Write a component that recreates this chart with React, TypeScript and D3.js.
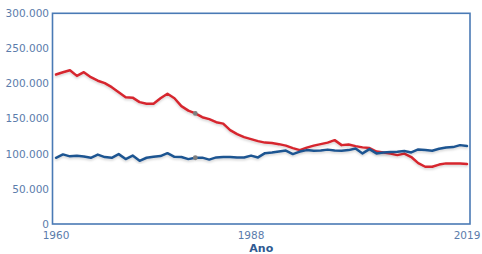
import React, { useEffect, useRef } from 'react';
import * as d3 from 'd3';

const years = d3.range(1960, 2020);

// red series (thousands)
const redValues = [
  212.8, 216.1, 219.0, 210.9, 216.1, 209.0, 204.0, 200.5, 194.8, 187.7,
  180.6, 179.9, 173.5, 171.3, 171.3, 179.1, 185.5, 179.1, 167.8, 161.4,
  157.4, 152.1, 149.3, 145.0, 142.9, 133.6, 128.0, 123.7, 120.9, 118.0,
  115.9, 115.2, 113.7, 111.6, 108.1, 105.2, 108.8, 111.6, 113.7, 115.9,
  119.4, 112.3, 113.3, 110.9, 109.1, 108.1, 103.1, 101.9, 100.2, 98.1,
  100.2, 95.3, 86.7, 81.5, 81.5, 84.6, 86.3, 86.3, 86.3, 85.3
];

// blue series (thousands)
const blueValues = [
  94.3, 99.1, 96.3, 97.1, 96.0, 94.3, 98.8, 95.3, 94.3, 99.5,
  92.4, 97.4, 90.0, 94.3, 95.7, 96.7, 100.9, 95.7, 95.3, 92.4,
  94.3, 94.5, 91.7, 94.8, 95.5, 95.5, 94.8, 94.8, 97.4, 94.8,
  100.9, 101.7, 103.1, 104.5, 99.5, 103.1, 105.2, 104.2, 104.5, 105.9,
  104.5, 104.2, 105.2, 107.6, 100.5, 106.6, 100.5, 101.9, 102.4, 102.8,
  103.8, 101.9, 106.2, 105.2, 104.2, 107.1, 108.8, 109.5, 112.3, 110.9
];

const yTicks = [0, 50, 100, 150, 200, 250, 300];
const yTickLabels = ['0', '50.000', '100.000', '150.000', '200.000', '250.000', '300.000'];
const xTicks = [1960, 1988, 2019];
const markerYear = 1980;

export default function App() {
  const svgRef = useRef<SVGSVGElement>(null);

  useEffect(() => {
    const W = 482;
    const H = 254;
    const frame = { left: 52.5, right: 470, top: 13.3, bottom: 224 };

    const svg = d3.select(svgRef.current);
    svg.selectAll('*').remove();
    svg.attr('width', W).attr('height', H);

    const x = d3.scaleLinear().domain([1960, 2019]).range([56, 467]);
    const y = d3.scaleLinear().domain([0, 300]).range([frame.bottom, frame.top]);

    const font = 'DejaVu Sans, Verdana, sans-serif';
    const labelColor = '#5b7cab';

    // soft shadow under lines
    const defs = svg.append('defs');
    const f = defs.append('filter').attr('id', 'shadow').attr('x', '-5%').attr('y', '-5%').attr('width', '110%').attr('height', '120%');
    f.append('feDropShadow').attr('dx', 0).attr('dy', 1.5).attr('stdDeviation', 1).attr('flood-color', '#000').attr('flood-opacity', 0.18);

    // frame
    svg.append('rect')
      .attr('x', frame.left)
      .attr('y', frame.top)
      .attr('width', frame.right - frame.left)
      .attr('height', frame.bottom - frame.top)
      .attr('fill', 'none')
      .attr('stroke', '#4a7ab5')
      .attr('stroke-width', 1.6);

    // y labels
    svg.append('g').selectAll('text')
      .data(yTicks)
      .join('text')
      .attr('x', 49)
      .attr('y', d => y(d))
      .attr('dy', '0.36em')
      .attr('text-anchor', 'end')
      .attr('font-family', font)
      .attr('font-size', 10.5)
      .attr('fill', labelColor)
      .text((d, i) => yTickLabels[i]);

    // x labels
    svg.append('g').selectAll('text')
      .data(xTicks)
      .join('text')
      .attr('x', d => x(d))
      .attr('y', 238.5)
      .attr('text-anchor', 'middle')
      .attr('font-family', font)
      .attr('font-size', 10.5)
      .attr('fill', labelColor)
      .text(d => String(d));

    svg.append('text')
      .attr('x', (frame.left + frame.right) / 2)
      .attr('y', 251.5)
      .attr('text-anchor', 'middle')
      .attr('font-family', font)
      .attr('font-size', 11)
      .attr('font-weight', 'bold')
      .attr('fill', '#2f5a92')
      .text('Ano');

    const line = d3.line<number>()
      .x((d, i) => x(years[i]))
      .y(d => y(d));

    const series = [
      { values: redValues, color: '#d6262f' },
      { values: blueValues, color: '#1f5491' }
    ];

    series.forEach(s => {
      svg.append('path')
        .datum(s.values)
        .attr('fill', 'none')
        .attr('stroke', s.color)
        .attr('stroke-width', 2.5)
        .attr('stroke-linejoin', 'round')
        .attr('stroke-linecap', 'round')
        .attr('filter', 'url(#shadow)')
        .attr('d', line);
    });

    // hover markers
    const mi = years.indexOf(markerYear);
    series.forEach(s => {
      svg.append('circle')
        .attr('cx', x(markerYear))
        .attr('cy', y(s.values[mi]))
        .attr('r', 2.4)
        .attr('fill', '#7f7f7f');
    });
  }, []);

  return (
    <div style={{ position: 'absolute', left: 0, top: 0 }}>
      <svg ref={svgRef} style={{ display: 'block' }}></svg>
    </div>
  );
}
